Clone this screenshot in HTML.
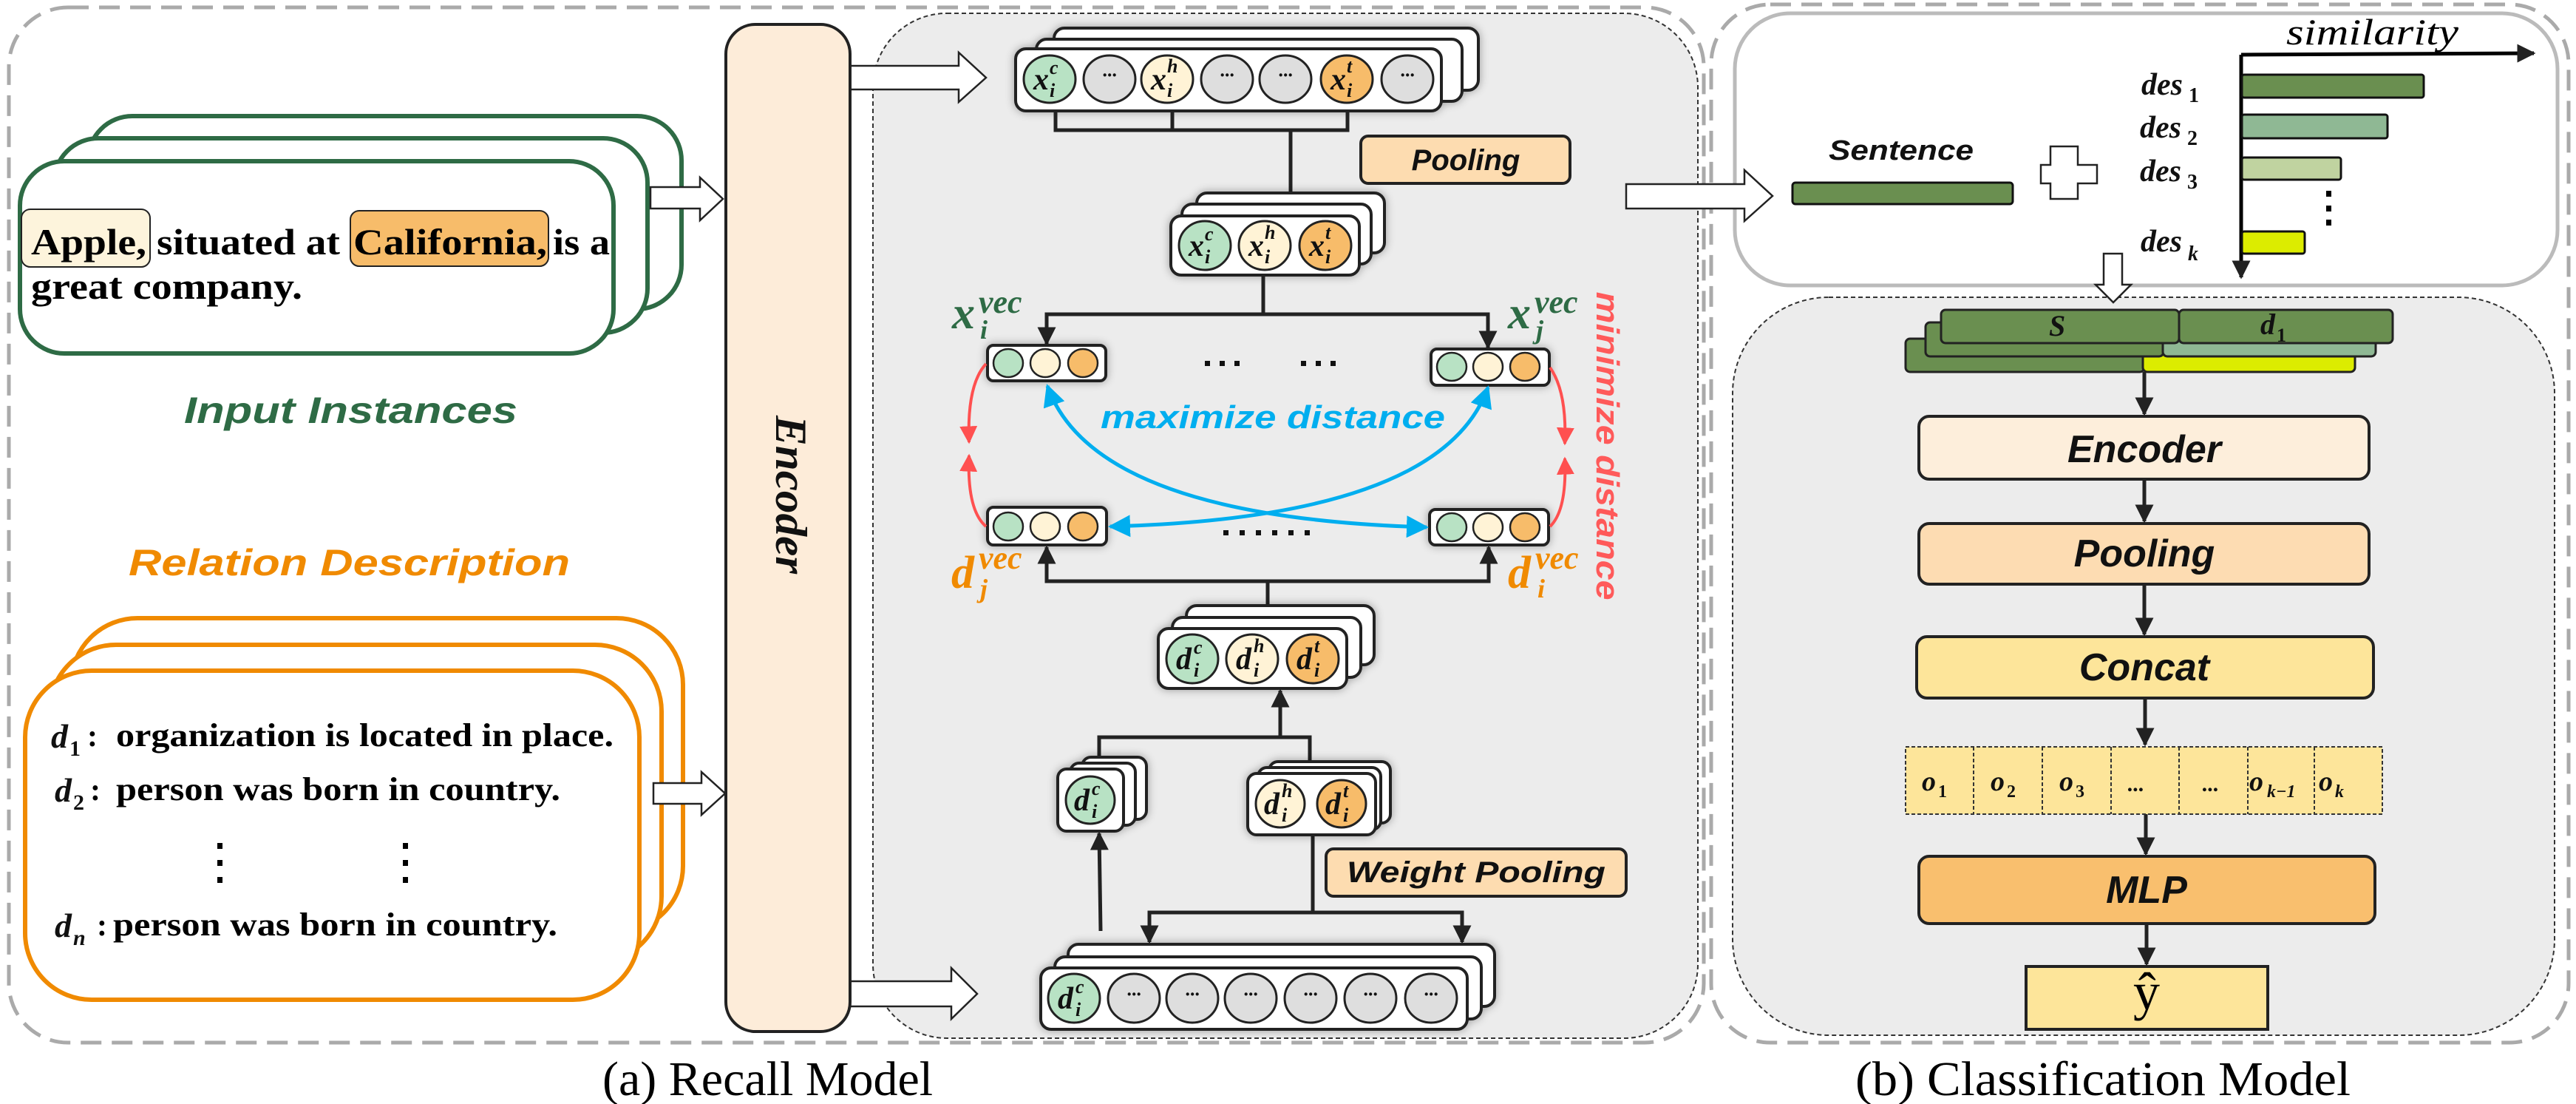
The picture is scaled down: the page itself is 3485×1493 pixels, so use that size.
<!DOCTYPE html>
<html><head><meta charset="utf-8"><style>
html,body{margin:0;padding:0;background:#fff;}
svg{display:block}
.m{font-family:"Liberation Serif",serif;font-style:italic;font-weight:bold;fill:#111}
.lb{font-family:"Liberation Sans",sans-serif;font-style:italic;font-weight:bold;fill:#111}
.tx{font-family:"Liberation Serif",serif;font-weight:bold;fill:#000}
</style></head><body>
<svg width="3485" height="1493" viewBox="0 0 3485 1493" xmlns="http://www.w3.org/2000/svg">
<defs>
<marker id="ab" viewBox="0 0 10 10" refX="9" refY="5" markerWidth="5" markerHeight="5" orient="auto-start-reverse" markerUnits="strokeWidth"><path d="M0,0L10,5L0,10z" fill="#222"/></marker>
<marker id="ablue" viewBox="0 0 10 10" refX="9" refY="5" markerWidth="6" markerHeight="6" orient="auto-start-reverse" markerUnits="strokeWidth"><path d="M0,0L10,5L0,10z" fill="#00aeef"/></marker>
<marker id="ared" viewBox="0 0 10 10" refX="9" refY="5" markerWidth="6" markerHeight="6" orient="auto-start-reverse" markerUnits="strokeWidth"><path d="M0,0L10,5L0,10z" fill="#ff5050"/></marker>
<filter id="sh" x="-10%" y="-20%" width="120%" height="140%"><feGaussianBlur in="SourceAlpha" stdDeviation="6"/><feOffset dx="0" dy="0"/><feComponentTransfer><feFuncA type="linear" slope="0.35"/></feComponentTransfer><feMerge><feMergeNode/><feMergeNode in="SourceGraphic"/></feMerge></filter>
</defs>

<rect x="12" y="10" width="2293" height="1400" rx="80" fill="none" stroke="#aaa" stroke-width="5" stroke-dasharray="28 14"/>
<rect x="2315" y="6" width="1160" height="1404" rx="80" fill="none" stroke="#aaa" stroke-width="5" stroke-dasharray="28 14"/>

<rect x="1181" y="18" width="1116" height="1386" rx="100" fill="#ececec" stroke="#333" stroke-width="2" stroke-dasharray="6 4"/>

<g fill="#fff" stroke="#2e6b45" stroke-width="6">
<rect x="119" y="157" width="803" height="261" rx="60"/>
<rect x="73" y="187" width="803" height="263" rx="60"/>
<rect x="27" y="218" width="803" height="260" rx="60"/>
</g>
<rect x="29" y="283" width="174" height="78" rx="12" fill="#fdf4dc" stroke="#222" stroke-width="2"/>
<rect x="474" y="285" width="268" height="75" rx="12" fill="#f7bc6a" stroke="#222" stroke-width="2"/>
<text class="tx" font-size="50" x="42" y="344" textLength="156" lengthAdjust="spacingAndGlyphs">Apple,</text>
<text class="tx" font-size="50" x="212" y="344" textLength="248" lengthAdjust="spacingAndGlyphs">situated at</text>
<text class="tx" font-size="50" x="478" y="344" textLength="262" lengthAdjust="spacingAndGlyphs">California,</text>
<text class="tx" font-size="50" x="748" y="344" textLength="77" lengthAdjust="spacingAndGlyphs">is a</text>
<text class="tx" font-size="50" x="42" y="404" textLength="367" lengthAdjust="spacingAndGlyphs">great company.</text>
<text class="lb" font-size="50" x="249" y="572" style="fill:#2e6b45" textLength="451" lengthAdjust="spacingAndGlyphs">Input Instances</text>
<text class="lb" font-size="50" x="174" y="778" style="fill:#f08a00" textLength="597" lengthAdjust="spacingAndGlyphs">Relation Description</text>

<g fill="#fff" stroke="#f08a00" stroke-width="6">
<rect x="96" y="836" width="828" height="425" rx="90"/>
<rect x="67" y="872" width="828" height="430" rx="90"/>
<rect x="34" y="907" width="831" height="445" rx="90"/>
</g>
<text class="m" font-size="46" x="69" y="1011">d</text><text class="m" font-size="30" x="94" y="1022" style="font-style:normal">1</text><text class="tx" font-size="42" x="118" y="1009">:</text>
<text class="tx" font-size="44" x="157" y="1009" textLength="673" lengthAdjust="spacingAndGlyphs">organization is located in place.</text>
<text class="m" font-size="46" x="74" y="1084">d</text><text class="m" font-size="30" x="99" y="1095" style="font-style:normal">2</text><text class="tx" font-size="42" x="122" y="1082">:</text>
<text class="tx" font-size="44" x="157" y="1082" textLength="601" lengthAdjust="spacingAndGlyphs">person was born in country.</text>
<g fill="#000"><rect x="294" y="1140" width="7" height="8"/><rect x="294" y="1163" width="7" height="8"/><rect x="294" y="1186" width="7" height="8"/>
<rect x="545" y="1140" width="7" height="8"/><rect x="545" y="1163" width="7" height="8"/><rect x="545" y="1186" width="7" height="8"/></g>
<text class="m" font-size="46" x="74" y="1267">d</text><text class="m" font-size="30" x="99" y="1278">n</text><text class="tx" font-size="42" x="131" y="1265">:</text>
<text class="tx" font-size="44" x="153" y="1265" textLength="601" lengthAdjust="spacingAndGlyphs">person was born in country.</text>

<g fill="#fff" stroke="#222" stroke-width="2.5">
<polygon points="880,253 947,253 947,240 978,269 947,298 947,282 880,282"/>
<polygon points="884,1059 949,1059 949,1044 981,1073 949,1102 949,1087 884,1087"/>
<polygon points="1150,89 1297,89 1297,71 1334,105 1297,138 1297,121 1150,121"/>
<polygon points="1150,1327 1287,1327 1287,1309 1322,1344 1287,1378 1287,1361 1150,1361"/>
</g>

<rect x="982" y="33" width="168" height="1362" rx="40" fill="#fdecd9" stroke="#222" stroke-width="4"/>
<text class="m" font-size="60" transform="translate(1050,669) rotate(90)" text-anchor="middle" textLength="214" lengthAdjust="spacingAndGlyphs">Encoder</text>

<g fill="#fff" stroke="#222" stroke-width="4" filter="url(#sh)">
<rect x="1426" y="38" width="574" height="84" rx="14"/>
<rect x="1402" y="53" width="576" height="84" rx="14"/>
<rect x="1374" y="66" width="576" height="84" rx="14"/>
</g>
<g stroke="#222" stroke-width="3">
<ellipse cx="1420" cy="107" rx="35" ry="32" fill="#b8e2c4"/>
<ellipse cx="1501" cy="107" rx="35" ry="32" fill="#dedede"/>
<ellipse cx="1579" cy="107" rx="35" ry="32" fill="#fff3d6"/>
<ellipse cx="1660" cy="107" rx="35" ry="32" fill="#dedede"/>
<ellipse cx="1739" cy="107" rx="35" ry="32" fill="#dedede"/>
<ellipse cx="1822" cy="107" rx="35" ry="32" fill="#f7bc6a"/>
<ellipse cx="1904" cy="107" rx="35" ry="32" fill="#dedede"/>
</g>
<g class="m" font-size="26" text-anchor="middle"><text x="1501" y="110">···</text><text x="1660" y="110">···</text><text x="1739" y="110">···</text><text x="1904" y="110">···</text></g>
<g class="m"><text x="1398" y="121" font-size="42">x</text><text x="1420" y="100" font-size="26">c</text><text x="1420" y="131" font-size="26">i</text>
<text x="1557" y="121" font-size="42">x</text><text x="1579" y="98" font-size="26">h</text><text x="1579" y="131" font-size="26">i</text>
<text x="1800" y="121" font-size="42">x</text><text x="1822" y="98" font-size="26">t</text><text x="1822" y="131" font-size="26">i</text></g>

<g fill="none" stroke="#222" stroke-width="5">
<polyline points="1428,150 1428,176 1823,176 1823,150"/><line x1="1586" y1="150" x2="1586" y2="176"/>
<line x1="1746" y1="176" x2="1746" y2="290" marker-end="url(#ab)"/>
</g>
<rect x="1841" y="184" width="283" height="64" rx="10" fill="#fddcb0" stroke="#222" stroke-width="4"/>
<text class="lb" font-size="40" x="1983" y="230" text-anchor="middle">Pooling</text>

<g fill="#fff" stroke="#222" stroke-width="4" filter="url(#sh)">
<rect x="1619" y="261" width="254" height="81" rx="14"/>
<rect x="1599" y="276" width="256" height="81" rx="14"/>
<rect x="1584" y="292" width="255" height="80" rx="14"/>
</g>
<g stroke="#222" stroke-width="3">
<ellipse cx="1630" cy="332" rx="35" ry="33" fill="#b8e2c4"/><ellipse cx="1711" cy="332" rx="35" ry="33" fill="#fff3d6"/><ellipse cx="1793" cy="332" rx="35" ry="33" fill="#f7bc6a"/></g>
<g class="m"><text x="1608" y="346" font-size="42">x</text><text x="1630" y="325" font-size="26">c</text><text x="1630" y="356" font-size="26">i</text>
<text x="1689" y="346" font-size="42">x</text><text x="1711" y="323" font-size="26">h</text><text x="1711" y="356" font-size="26">i</text>
<text x="1771" y="346" font-size="42">x</text><text x="1793" y="323" font-size="26">t</text><text x="1793" y="356" font-size="26">i</text></g>

<g fill="none" stroke="#222" stroke-width="5">
<polyline points="1709,372 1709,425"/><polyline points="1416,465 1416,425 2013,425 2013,470" marker-start="url(#ab)" marker-end="url(#ab)"/>
</g>

<g fill="#fff" stroke="#222" stroke-width="4" filter="url(#sh)">
<rect x="1336" y="467" width="160" height="48" rx="8"/><rect x="1936" y="472" width="160" height="49" rx="8"/>
<rect x="1336" y="686" width="161" height="51" rx="8"/><rect x="1934" y="689" width="161" height="48" rx="8"/>
</g>
<g stroke="#222" stroke-width="2.5">
<ellipse cx="1364" cy="491" rx="20" ry="19" fill="#b8e2c4"/><ellipse cx="1414" cy="491" rx="20" ry="19" fill="#fff3d6"/><ellipse cx="1465" cy="491" rx="20" ry="19" fill="#f7bc6a"/>
<ellipse cx="1964" cy="496" rx="20" ry="19" fill="#b8e2c4"/><ellipse cx="2013" cy="496" rx="20" ry="19" fill="#fff3d6"/><ellipse cx="2063" cy="496" rx="20" ry="19" fill="#f7bc6a"/>
<ellipse cx="1364" cy="712" rx="20" ry="19" fill="#b8e2c4"/><ellipse cx="1414" cy="712" rx="20" ry="19" fill="#fff3d6"/><ellipse cx="1465" cy="712" rx="20" ry="19" fill="#f7bc6a"/>
<ellipse cx="1964" cy="713" rx="20" ry="19" fill="#b8e2c4"/><ellipse cx="2013" cy="713" rx="20" ry="19" fill="#fff3d6"/><ellipse cx="2063" cy="713" rx="20" ry="19" fill="#f7bc6a"/>
</g>
<g fill="#111"><rect x="1630" y="488" width="7" height="7"/><rect x="1650" y="488" width="7" height="7"/><rect x="1670" y="488" width="7" height="7"/>
<rect x="1760" y="488" width="7" height="7"/><rect x="1780" y="488" width="7" height="7"/><rect x="1800" y="488" width="7" height="7"/>
<rect x="1655" y="717" width="7" height="7"/><rect x="1677" y="717" width="7" height="7"/><rect x="1699" y="717" width="7" height="7"/><rect x="1721" y="717" width="7" height="7"/><rect x="1743" y="717" width="7" height="7"/><rect x="1765" y="717" width="7" height="7"/></g>

<g class="m"><text x="1288" y="444" font-size="62" style="fill:#2e6b45">x</text><text x="1324" y="423" font-size="44" style="fill:#2e6b45">vec</text><text x="1326" y="458" font-size="36" style="fill:#2e6b45">i</text>
<text x="2040" y="444" font-size="62" style="fill:#2e6b45">x</text><text x="2076" y="423" font-size="44" style="fill:#2e6b45">vec</text><text x="2078" y="458" font-size="36" style="fill:#2e6b45">j</text></g>
<g class="m"><text x="1287" y="795" font-size="62" style="fill:#f08a00">d</text><text x="1324" y="769" font-size="44" style="fill:#f08a00">vec</text><text x="1326" y="808" font-size="36" style="fill:#f08a00">j</text>
<text x="2040" y="795" font-size="62" style="fill:#f08a00">d</text><text x="2077" y="769" font-size="44" style="fill:#f08a00">vec</text><text x="2080" y="808" font-size="36" style="fill:#f08a00">i</text></g>

<g fill="none" stroke="#00aeef" stroke-width="5">
<path d="M1417,522 Q1480,700 1930,713" marker-start="url(#ablue)" marker-end="url(#ablue)"/>
<path d="M2013,524 Q1950,700 1502,712" marker-start="url(#ablue)" marker-end="url(#ablue)"/>
</g>
<text class="lb" font-size="44" x="1489" y="579" style="fill:#00aeef" textLength="466" lengthAdjust="spacingAndGlyphs">maximize distance</text>
<g fill="none" stroke="#ff5050" stroke-width="4">
<path d="M1334,492 Q1308,520 1311,598" marker-end="url(#ared)"/>
<path d="M1334,712 Q1308,690 1311,616" marker-end="url(#ared)"/>
<path d="M2097,497 Q2120,530 2117,600" marker-end="url(#ared)"/>
<path d="M2097,712 Q2120,690 2117,620" marker-end="url(#ared)"/>
</g>
<text class="lb" font-size="44" transform="translate(2160,603) rotate(90)" text-anchor="middle" style="fill:#ff5a5a" textLength="417" lengthAdjust="spacingAndGlyphs">minimize distance</text>

<g fill="none" stroke="#222" stroke-width="5">
<polyline points="1416,740 1416,786 2014,786 2014,740" marker-start="url(#ab)" marker-end="url(#ab)"/>
<line x1="1715" y1="786" x2="1715" y2="819"/>
</g>

<g fill="#fff" stroke="#222" stroke-width="4" filter="url(#sh)">
<rect x="1605" y="819" width="254" height="80" rx="14"/>
<rect x="1586" y="835" width="255" height="81" rx="14"/>
<rect x="1567" y="850" width="255" height="81" rx="14"/>
</g>
<g stroke="#222" stroke-width="3">
<ellipse cx="1613" cy="891" rx="35" ry="33" fill="#b8e2c4"/><ellipse cx="1694" cy="891" rx="35" ry="33" fill="#fff3d6"/><ellipse cx="1776" cy="891" rx="35" ry="33" fill="#f7bc6a"/></g>
<g class="m"><text x="1591" y="905" font-size="42">d</text><text x="1615" y="884" font-size="26">c</text><text x="1615" y="915" font-size="26">i</text>
<text x="1672" y="905" font-size="42">d</text><text x="1696" y="882" font-size="26">h</text><text x="1696" y="915" font-size="26">i</text>
<text x="1754" y="905" font-size="42">d</text><text x="1778" y="882" font-size="26">t</text><text x="1778" y="915" font-size="26">i</text></g>

<g fill="none" stroke="#222" stroke-width="5">
<line x1="1732" y1="997" x2="1732" y2="934" marker-end="url(#ab)"/>
<polyline points="1487,1024 1487,997 1772,997 1772,1030"/>
<line x1="1489" y1="1259" x2="1487" y2="1127" marker-end="url(#ab)"/>
<polyline points="1776,1129 1776,1234"/>
<polyline points="1555,1274 1555,1234 1978,1234 1978,1274" marker-start="url(#ab)" marker-end="url(#ab)"/>
</g>

<g fill="#fff" stroke="#222" stroke-width="4" filter="url(#sh)">
<rect x="1464" y="1024" width="87" height="84" rx="12"/><rect x="1448" y="1032" width="88" height="84" rx="12"/><rect x="1431" y="1040" width="89" height="84" rx="12"/>
<rect x="1717" y="1030" width="164" height="83" rx="12"/><rect x="1702" y="1038" width="166" height="84" rx="12"/><rect x="1688" y="1046" width="173" height="83" rx="12"/>
</g>
<g stroke="#222" stroke-width="3">
<ellipse cx="1475" cy="1082" rx="33" ry="32" fill="#b8e2c4"/>
<ellipse cx="1732" cy="1087" rx="33" ry="32" fill="#fff3d6"/><ellipse cx="1815" cy="1087" rx="33" ry="32" fill="#f7bc6a"/></g>
<g class="m"><text x="1453" y="1096" font-size="42">d</text><text x="1477" y="1075" font-size="26">c</text><text x="1477" y="1106" font-size="26">i</text>
<text x="1710" y="1101" font-size="42">d</text><text x="1734" y="1078" font-size="26">h</text><text x="1734" y="1111" font-size="26">i</text>
<text x="1793" y="1101" font-size="42">d</text><text x="1817" y="1078" font-size="26">t</text><text x="1817" y="1111" font-size="26">i</text></g>

<rect x="1794" y="1148" width="406" height="64" rx="10" fill="#fddcb0" stroke="#222" stroke-width="4"/>
<text class="lb" font-size="40" x="1997" y="1193" text-anchor="middle" textLength="350" lengthAdjust="spacingAndGlyphs">Weight Pooling</text>

<g fill="#fff" stroke="#222" stroke-width="4" filter="url(#sh)">
<rect x="1445" y="1277" width="577" height="84" rx="14"/>
<rect x="1427" y="1294" width="577" height="84" rx="14"/>
<rect x="1408" y="1309" width="577" height="83" rx="14"/>
</g>
<g stroke="#222" stroke-width="3">
<ellipse cx="1453" cy="1350" rx="35" ry="33" fill="#b8e2c4"/>
<ellipse cx="1534" cy="1350" rx="35" ry="33" fill="#dedede"/><ellipse cx="1613" cy="1350" rx="35" ry="33" fill="#dedede"/><ellipse cx="1692" cy="1350" rx="35" ry="33" fill="#dedede"/>
<ellipse cx="1773" cy="1350" rx="35" ry="33" fill="#dedede"/><ellipse cx="1854" cy="1350" rx="35" ry="33" fill="#dedede"/><ellipse cx="1936" cy="1350" rx="35" ry="33" fill="#dedede"/></g>
<g class="m" font-size="26" text-anchor="middle"><text x="1534" y="1353">···</text><text x="1613" y="1353">···</text><text x="1692" y="1353">···</text><text x="1773" y="1353">···</text><text x="1854" y="1353">···</text><text x="1936" y="1353">···</text></g>
<g class="m"><text x="1431" y="1364" font-size="42">d</text><text x="1455" y="1343" font-size="26">c</text><text x="1455" y="1374" font-size="26">i</text></g>

<!-- RIGHT PANEL -->
<rect x="2347" y="18" width="1113" height="368" rx="75" fill="#fff" stroke="#bbb" stroke-width="5"/>
<polygon points="2200,249 2360,249 2360,230 2398,265 2360,299 2360,282 2200,282" fill="#fff" stroke="#222" stroke-width="2.5"/>
<path d="M2774,198h37v25h26v25h-26v21h-37v-21h-13v-25h13z" fill="#fff" stroke="#222" stroke-width="2.5"/>
<rect x="2425" y="247" width="298" height="29" rx="4" fill="#6a8f50" stroke="#111" stroke-width="3"/>
<text class="lb" font-size="38" x="2474" y="216" textLength="196" lengthAdjust="spacingAndGlyphs">Sentence</text>
<g stroke="#000" stroke-width="5" fill="none">
<line x1="3032" y1="74" x2="3032" y2="375" marker-end="url(#ab)"/>
<line x1="3032" y1="74" x2="3428" y2="72" marker-end="url(#ab)"/>
</g>
<text font-family="Liberation Serif,serif" font-style="italic" font-size="50" x="3093" y="60" textLength="233" lengthAdjust="spacingAndGlyphs">similarity</text>
<g stroke="#111" stroke-width="3">
<rect x="3033" y="101" width="246" height="31" rx="3" fill="#6a8f50"/>
<rect x="3033" y="155" width="197" height="32" rx="3" fill="#8fb894"/>
<rect x="3033" y="213" width="134" height="30" rx="3" fill="#c0d3a0"/>
<rect x="3033" y="313" width="85" height="30" rx="3" fill="#dcec00"/>
</g>
<g fill="#000"><rect x="3147" y="258" width="7" height="8"/><rect x="3147" y="278" width="7" height="8"/><rect x="3147" y="297" width="7" height="8"/></g>
<g class="m" font-size="42"><text x="2897" y="128">des</text><text x="2961" y="138" font-size="28" style="font-style:normal">1</text>
<text x="2895" y="186">des</text><text x="2959" y="196" font-size="28" style="font-style:normal">2</text>
<text x="2895" y="245">des</text><text x="2959" y="255" font-size="28" style="font-style:normal">3</text>
<text x="2896" y="340">des</text><text x="2960" y="352" font-size="28">k</text></g>

<rect x="2344" y="402" width="1112" height="998" rx="130" fill="#ececec" stroke="#333" stroke-width="2" stroke-dasharray="6 4"/>
<polygon points="2846,343 2871,343 2871,385 2883,385 2859,409 2835,385 2846,385" fill="#fff" stroke="#222" stroke-width="2.5"/>

<g stroke="#222" stroke-width="3">
<rect x="2578" y="458" width="323" height="45" rx="6" fill="#6a8f50"/><rect x="2899" y="458" width="287" height="45" rx="6" fill="#dcec00"/>
<rect x="2605" y="436" width="322" height="46" rx="6" fill="#6a8f50"/><rect x="2926" y="436" width="288" height="46" rx="6" fill="#8fb894"/>
<rect x="2626" y="419" width="322" height="45" rx="6" fill="#6a8f50"/><rect x="2948" y="419" width="289" height="45" rx="6" fill="#6a8f50"/>
</g>
<text class="m" font-size="40" x="2772" y="454">S</text><text class="m" font-size="40" x="3058" y="452">d</text><text class="m" font-size="26" x="3080" y="462" style="font-style:normal">1</text>

<g fill="none" stroke="#222" stroke-width="5">
<line x1="2901" y1="503" x2="2901" y2="560" marker-end="url(#ab)"/>
<line x1="2901" y1="648" x2="2901" y2="705" marker-end="url(#ab)"/>
<line x1="2901" y1="790" x2="2901" y2="858" marker-end="url(#ab)"/>
<line x1="2902" y1="944" x2="2902" y2="1007" marker-end="url(#ab)"/>
<line x1="2903" y1="1101" x2="2903" y2="1155" marker-end="url(#ab)"/>
<line x1="2904" y1="1249" x2="2904" y2="1304" marker-end="url(#ab)"/>
</g>
<g stroke="#222" stroke-width="4">
<rect x="2596" y="563" width="609" height="85" rx="14" fill="#fdeedb"/>
<rect x="2596" y="708" width="609" height="82" rx="14" fill="#fddcb2"/>
<rect x="2593" y="861" width="618" height="83" rx="14" fill="#fde59a"/>
<rect x="2596" y="1158" width="617" height="91" rx="14" fill="#f9bf6e"/>
<rect x="2741" y="1307" width="327" height="85" fill="#fde59a"/>
</g>
<rect x="2578" y="1010" width="645" height="91" fill="#fde59a" stroke="#333" stroke-width="2" stroke-dasharray="5 3"/>
<g stroke="#333" stroke-width="2" stroke-dasharray="5 3"><line x1="2670" y1="1010" x2="2670" y2="1101"/><line x1="2763" y1="1010" x2="2763" y2="1101"/><line x1="2856" y1="1010" x2="2856" y2="1101"/><line x1="2948" y1="1010" x2="2948" y2="1101"/><line x1="3041" y1="1010" x2="3041" y2="1101"/><line x1="3131" y1="1010" x2="3131" y2="1101"/></g>
<g class="lb" font-size="52" text-anchor="middle">
<text x="2901" y="625">Encoder</text><text x="2901" y="766">Pooling</text><text x="2901" y="920">Concat</text><text x="2904" y="1221">MLP</text></g>
<text font-family="Liberation Serif,serif" font-size="72" x="2904" y="1365" text-anchor="middle">ŷ</text>
<g class="m" font-size="38"><text x="2600" y="1069">o</text><text x="2622" y="1078" font-size="24" style="font-style:normal">1</text>
<text x="2693" y="1069">o</text><text x="2715" y="1078" font-size="24" style="font-style:normal">2</text>
<text x="2786" y="1069">o</text><text x="2808" y="1078" font-size="24" style="font-style:normal">3</text>
<text x="2890" y="1070" font-size="30" text-anchor="middle">...</text><text x="2991" y="1070" font-size="30" text-anchor="middle">...</text>
<text x="3043" y="1069">o</text><text x="3067" y="1078" font-size="24">k−1</text>
<text x="3137" y="1069">o</text><text x="3159" y="1078" font-size="24">k</text></g>

<text font-family="Liberation Serif,serif" font-size="66" x="815" y="1481">(a) Recall Model</text>
<text font-family="Liberation Serif,serif" font-size="66" x="2510" y="1481" textLength="670" lengthAdjust="spacingAndGlyphs">(b) Classification Model</text>
</svg>
</body></html>
